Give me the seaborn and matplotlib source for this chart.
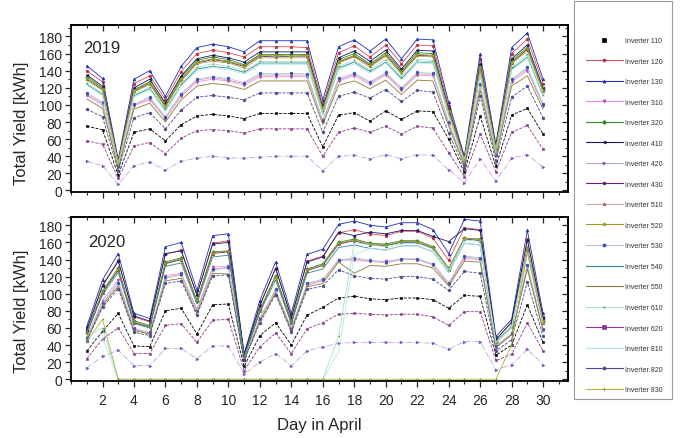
import seaborn as sns
import matplotlib.pyplot as plt
from matplotlib.lines import Line2D
from matplotlib.patches import Rectangle
from matplotlib.ticker import MultipleLocator, FixedLocator

days = list(range(1, 31))
names = ["110", "120", "130", "310", "320", "410", "420", "430", "510",
         "520", "530", "540", "550", "610", "620", "810", "820", "830"]

# 2019 daily yield per inverter [kWh]
y19_110 = [75,71,18,68,72,58,77,87,89,87,84,90,90,90,90,51,88,91,81,93,83,93,92,60,21,87,28,88,96,66]
y19_120 = [140,127,35,125,134,106,139,160,164,161,156,168,168,168,167,101,161,169,156,170,148,170,169,99,38,154,52,160,177,125]
y19_130 = [146,131,36,130,140,110,145,167,171,168,162,175,175,175,175,106,168,176,163,177,154,177,176,103,40,160,54,167,184,130]
y19_310 = [111,100,27,99,106,84,110,127,130,128,123,133,133,133,133,80,128,134,124,135,117,135,134,78,30,122,41,127,140,99]
y19_320 = [133,120,33,118,127,100,132,152,156,153,147,159,159,159,159,96,153,160,148,161,140,161,160,94,36,146,49,152,167,118]
y19_410 = [135,122,33,120,130,102,134,154,158,155,150,162,162,162,162,97,155,163,151,164,142,164,163,95,37,148,50,154,170,120]
y19_420 = [34,29,7,29,33,24,34,38,40,38,38,39,40,40,40,23,40,41,37,42,37,42,41,24,9,37,11,38,42,27]
y19_430 = [130,118,31,116,125,98,129,149,153,150,145,157,156,157,157,94,150,157,146,158,138,158,157,92,35,143,48,149,165,116]
y19_510 = [112,102,28,100,108,85,112,129,132,129,125,135,135,135,135,81,129,136,126,136,119,136,136,79,31,123,42,129,142,100]
y19_520 = [131,119,32,117,126,99,130,150,154,151,146,158,158,157,158,95,151,158,147,159,139,159,158,93,36,144,49,150,166,117]
y19_530 = [114,103,28,101,109,86,113,130,133,131,126,137,136,137,136,82,131,137,127,138,120,138,137,80,31,125,42,130,144,101]
y19_540 = [124,112,31,111,119,94,123,142,145,143,138,149,149,149,149,89,143,150,139,150,131,150,150,88,34,136,46,142,156,111]
y19_550 = [107,96,26,95,102,80,106,122,125,123,118,128,128,128,128,77,123,128,119,129,112,129,128,75,29,117,39,122,134,95]
y19_610 = [126,114,31,112,121,95,125,144,148,145,140,151,151,151,151,91,145,152,141,153,133,153,152,89,35,138,47,144,159,112]
y19_620 = [58,54,14,52,56,43,61,70,71,70,67,72,72,72,72,40,68,73,68,75,66,75,73,44,16,66,22,68,76,48]
y19_810 = [123,111,30,109,118,92,122,140,144,141,136,147,147,147,147,88,141,148,137,149,129,149,148,87,34,134,45,140,155,109]
y19_820 = [95,86,23,85,91,72,94,109,111,109,106,114,114,114,114,68,110,115,108,118,104,117,115,67,26,110,35,109,122,85]
y19_830 = [129,117,32,115,124,97,128,148,151,149,143,155,155,155,155,93,149,156,144,157,136,157,156,91,35,142,48,148,163,115]

# 2020 daily yield per inverter [kWh]
y20_110 = [33,56,77,39,38,80,83,53,87,88,15,51,66,40,75,84,95,97,94,93,95,95,93,83,98,97,28,40,87,43]
y20_120 = [59,110,139,73,67,146,151,98,159,162,28,87,129,73,138,144,171,175,170,168,173,173,165,139,177,175,47,66,164,73]
y20_130 = [62,116,147,77,71,155,160,104,168,170,30,92,137,77,146,152,181,185,180,178,183,183,175,147,187,185,50,70,174,77]
y20_310 = [48,92,116,60,52,121,124,82,131,132,22,72,103,60,110,115,140,139,138,138,140,140,134,110,141,140,37,52,130,57]
y20_320 = [55,103,130,68,63,137,142,92,149,150,27,81,121,68,129,135,160,164,159,158,162,162,155,130,165,164,44,62,154,68]
y20_410 = [58,109,138,74,68,147,150,99,158,160,29,86,130,72,137,143,172,168,172,170,174,174,167,161,176,174,46,67,163,72]
y20_420 = [13,27,34,16,16,36,36,24,39,39,6,20,30,16,33,38,42,43,43,43,43,43,42,35,44,44,11,17,35,17]
y20_430 = [54,101,128,66,61,135,140,91,147,149,26,80,120,66,127,133,158,162,157,156,160,160,153,128,164,162,43,61,152,66]
y20_510 = [47,88,112,58,54,118,122,80,128,130,23,70,104,58,111,116,138,141,138,136,140,140,134,112,143,141,38,53,133,58]
y20_520 = [54,102,129,67,62,136,141,91,148,150,26,80,120,67,128,134,159,163,158,157,161,161,154,129,165,163,44,61,153,67]
y20_530 = [48,89,113,59,55,119,123,80,129,131,23,71,105,59,112,117,139,142,139,137,141,141,135,113,144,142,39,54,134,59]
y20_540 = [53,99,125,65,60,132,136,88,143,145,26,78,116,65,124,129,154,157,153,151,156,156,149,125,159,157,43,60,148,65]
y20_550 = [46,86,109,57,53,115,118,77,124,123,22,68,101,57,108,112,137,124,133,132,135,135,130,109,138,137,37,52,129,57]
y20_610 = [50,60,0,0,0,0,0,0,0,0,0,0,0,0,0,0,50,160,157,155,159,159,152,128,163,161,43,61,151,67]
y20_620 = [24,47,60,30,30,63,65,43,69,70,10,38,54,30,59,66,76,77,76,75,76,76,73,63,79,79,22,29,66,33]
y20_810 = [47,48,0,0,0,0,0,0,0,0,0,0,0,0,0,0,32,146,153,151,156,156,149,125,159,157,43,60,148,65]
y20_820 = [45,84,106,55,51,112,115,75,121,122,22,66,99,55,105,109,128,121,118,117,120,120,117,104,126,124,33,46,114,50]
y20_830 = [44,70,0,0,0,0,0,0,0,0,0,0,0,0,0,0,0,0,0,0,0,0,0,0,0,0,0,40,150,66]

y2019 = [y19_110, y19_120, y19_130, y19_310, y19_320, y19_410, y19_420, y19_430, y19_510,
         y19_520, y19_530, y19_540, y19_550, y19_610, y19_620, y19_810, y19_820, y19_830]
y2020 = [y20_110, y20_120, y20_130, y20_310, y20_320, y20_410, y20_420, y20_430, y20_510,
         y20_520, y20_530, y20_540, y20_550, y20_610, y20_620, y20_810, y20_820, y20_830]

# line colour, marker, marker colour, line style
styles = {
    "110": ("black", "s", "black", "--"),
    "120": ("#d0505c", "o", "#c03040", "-"),
    "130": ("#2030b0", "^", "#2030b0", "-"),
    "310": ("#e890ec", "v", "#c040c0", "-"),
    "320": ("#2e8b2e", "D", "#2e8b2e", "-"),
    "410": ("#1a1a60", "<", "#1a1a60", "-"),
    "420": ("#b8a4d8", ">", "#8050c0", "-."),
    "430": ("#6a1f7a", "h", "#6a1f7a", "-"),
    "510": ("#d0a8a8", "*", "#a06060", "-"),
    "520": ("#9a9a20", "p", "#9a9a20", "-"),
    "530": ("#b8c4d8", "o", "#3050c0", "-"),
    "540": ("#2a8a8a", "", "#2a8a8a", "-"),
    "550": ("#8a7a30", "", "#8a7a30", "-"),
    "610": ("#a8e0d0", "3", "#40a040", "-"),
    "620": ("#8a3a8a", "s", "#8a3a8a", "--"),
    "810": ("#b0e8e8", "", "#b0e8e8", "-"),
    "820": ("#4a4a8a", "o", "#4a4a8a", "--"),
    "830": ("#b0b040", "+", "#909020", "-"),
}

sns.set_theme(style="ticks")
plt.rcParams['font.family'] = ['Liberation Sans', 'DejaVu Sans']

fig = plt.figure(figsize=(6.83, 4.39), dpi=100)
ax1 = fig.add_axes([0.104, 0.560, 0.728, 0.380])
ax2 = fig.add_axes([0.104, 0.130, 0.728, 0.374])

for ax, data, year in [(ax1, y2019, "2019"), (ax2, y2020, "2020")]:
    for name, vals in zip(names, data):
        lc, m, mc, ls = styles[name]
        sns.lineplot(x=days, y=vals, ax=ax, color=lc, marker=m if m else None,
                     markersize=2.0, markerfacecolor=mc, markeredgecolor=mc,
                     markeredgewidth=0.4, linewidth=0.6, linestyle=ls, legend=False)
    ax.set_xlim(0, 31.6)
    ax.set_ylim(-2, 193 if year == "2019" else 190)
    ax.xaxis.set_major_locator(FixedLocator(list(range(2, 31, 2))))
    ax.xaxis.set_minor_locator(MultipleLocator(1))
    ax.yaxis.set_major_locator(MultipleLocator(20))
    ax.yaxis.set_minor_locator(MultipleLocator(10))
    ax.tick_params(which="major", direction="out", length=4, width=0.9, labelsize=10, pad=2.5,
                   bottom=True, left=True)
    ax.tick_params(which="minor", direction="out", length=2.5, width=0.8, bottom=True, left=True)
    ax.tick_params(axis="x", which="major", pad=5)
    for sp in ax.spines.values():
        sp.set_linewidth(1.3)
        sp.set_color("black")
    # inward ticks on top and right
    top = ax.secondary_xaxis("top")
    top.xaxis.set_major_locator(FixedLocator(list(range(2, 31, 2))))
    top.xaxis.set_minor_locator(MultipleLocator(1))
    top.tick_params(which="major", direction="in", length=4, width=0.9, labeltop=False)
    top.tick_params(which="minor", direction="in", length=2.5, width=0.8)
    right = ax.secondary_yaxis("right")
    right.yaxis.set_major_locator(MultipleLocator(20))
    right.yaxis.set_minor_locator(MultipleLocator(10))
    right.tick_params(which="major", direction="in", length=4, width=0.9, labelright=False)
    right.tick_params(which="minor", direction="in", length=2.5, width=0.8)
    ax.set_ylabel("Total Yield [kWh]", fontsize=12)
    ax.text(0.025 if year == "2019" else 0.034, 0.87 if year == "2019" else 0.85, year,
            transform=ax.transAxes, fontsize=12, va="center", ha="left")

ax1.set_xlabel("")
ax1.tick_params(axis="x", labelbottom=False)
ax1.yaxis.set_label_coords(-0.085, 0.42)
ax2.yaxis.set_label_coords(-0.085, 0.43)
ax2.set_xlabel("Day in April", fontsize=12, labelpad=7)

# legend in a tall box on the right
handles = []
for name in names:
    lc, m, mc, ls = styles[name]
    handles.append(Line2D([], [], color=lc, marker=m if m else None, markersize=2.2,
                          markerfacecolor=mc, markeredgecolor=mc, markeredgewidth=0.5,
                          linewidth=0.8, linestyle="None" if name == "110" else "-"))
labels = ["Inverter " + n for n in names]
fig.legend(handles, labels, loc="upper left", bbox_to_anchor=(586 / 683, 1 - 38 / 439),
           frameon=False, fontsize=5, handlelength=5.3, handletextpad=0.3,
           labelspacing=1.95, borderpad=0, borderaxespad=0, labelcolor="#333333")
fig.add_artist(Rectangle((574 / 683, 1 - 400 / 439), 98 / 683, 398 / 439,
                         transform=fig.transFigure, fill=False, edgecolor="#999999", linewidth=0.8))

fig.savefig("out.png", dpi=100)
